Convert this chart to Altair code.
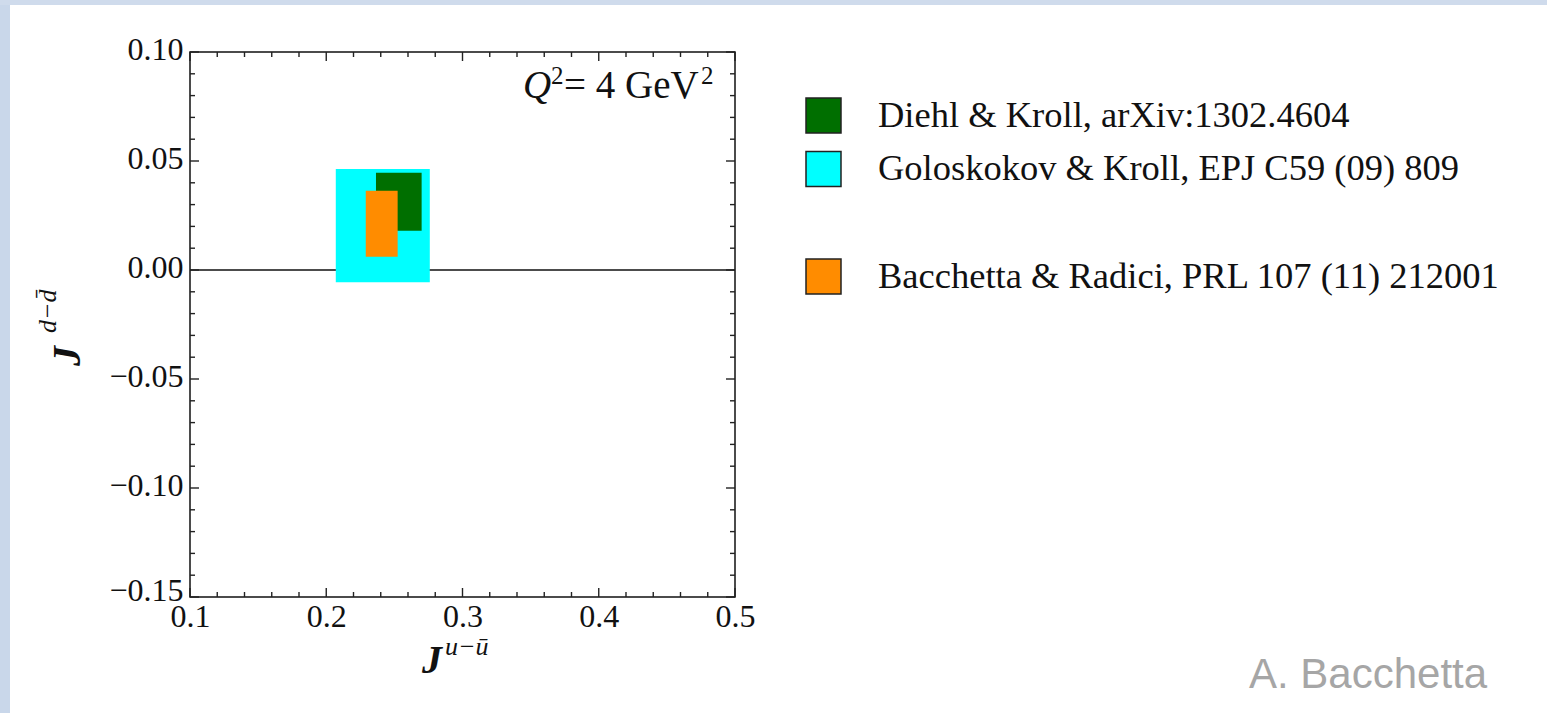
import altair as alt
import pandas as pd

# ---------------- data ----------------
gk_dk_models = ["Goloskokov & Kroll, EPJ C59 (09) 809", "Diehl & Kroll, arXiv:1302.4604"]
gk_dk_x_lo = [0.207, 0.2365]
gk_dk_x_hi = [0.276, 0.270]
gk_dk_y_lo = [-0.0056, 0.018]
gk_dk_y_hi = [0.0463, 0.0446]
gk_dk_colors = ["#00ffff", "#006f00"]

br_models = ["Bacchetta & Radici, PRL 107 (11) 212001"]
br_x_lo = [0.229]
br_x_hi = [0.2524]
br_y_lo = [0.0061]
br_y_hi = [0.0364]
br_colors = ["#ff8c00"]

legend_order = ["Diehl & Kroll, arXiv:1302.4604", "Goloskokov & Kroll, EPJ C59 (09) 809"]
legend_colors = ["#006f00", "#00ffff"]

x_major = [0.1, 0.2, 0.3, 0.4, 0.5]
y_major = [-0.15, -0.10, -0.05, 0.0, 0.05, 0.10]
x_minor = [0.12, 0.14, 0.16, 0.18, 0.22, 0.24, 0.26, 0.28, 0.32, 0.34, 0.36, 0.38,
           0.42, 0.44, 0.46, 0.48]
y_minor = [-0.14, -0.13, -0.12, -0.11, -0.09, -0.08, -0.07, -0.06, -0.04, -0.03, -0.02,
           -0.01, 0.01, 0.02, 0.03, 0.04, 0.06, 0.07, 0.08, 0.09]

# ---------------- layout ----------------
W, H = 545, 545
PAD_L, PAD_T = 190, 52
TOTAL_W, TOTAL_H = 1547, 713
FONT = "Liberation Serif"
TXT = "#111111"

xs = alt.Scale(domain=[0.1, 0.5], nice=False, zero=False)
ys = alt.Scale(domain=[-0.15, 0.10], nice=False, zero=False)

xaxis = alt.Axis(values=x_major, format=".1f", title=None, ticks=False, domain=False,
                 grid=False, labelFont=FONT, labelFontSize=32, labelColor=TXT,
                 labelPadding=4, labelFlush=False, labelOverlap=False)
yaxis = alt.Axis(values=y_major, format=".2f", title=None, ticks=False, domain=False,
                 grid=False, labelFont=FONT, labelFontSize=32, labelColor=TXT,
                 labelPadding=7, labelFlush=False, labelOverlap=False,
                 labelOffset=alt.condition("datum.value < -0.14", alt.value(-7), alt.value(-3)))

one = pd.DataFrame({"a": [0]})

# slide background strips (outside plot)
strip_left = alt.Chart(one).mark_rect(color="#c9d7ea").encode(
    x=alt.value(-PAD_L), x2=alt.value(-PAD_L + 10),
    y=alt.value(-PAD_T), y2=alt.value(TOTAL_H - PAD_T))
strip_top = alt.Chart(one).mark_rect(color="#cfdbec").encode(
    x=alt.value(-PAD_L), x2=alt.value(TOTAL_W - PAD_L),
    y=alt.value(-PAD_T), y2=alt.value(-PAD_T + 5))

df_a = pd.DataFrame({"model": gk_dk_models, "x0": gk_dk_x_lo, "x1": gk_dk_x_hi,
                     "y0": gk_dk_y_lo, "y1": gk_dk_y_hi})
df_b = pd.DataFrame({"model2": br_models, "x0": br_x_lo, "x1": br_x_hi,
                     "y0": br_y_lo, "y1": br_y_hi})

leg_common = dict(title=None, orient="none", symbolType="square", symbolSize=1225,
                  symbolStrokeColor="#222222", symbolStrokeWidth=1.5, labelFont=FONT,
                  labelFontSize=36.5, labelColor=TXT, labelOffset=36, labelLimit=900,
                  rowPadding=12.5, padding=0, symbolOpacity=1)

rects_a = alt.Chart(df_a).mark_rect().encode(
    x=alt.X("x0:Q", scale=xs, axis=xaxis), x2="x1:Q",
    y=alt.Y("y0:Q", scale=ys, axis=yaxis), y2="y1:Q",
    color=alt.Color("model:N", scale=alt.Scale(domain=legend_order, range=legend_colors),
                    legend=alt.Legend(legendX=615, legendY=45, **leg_common)))

rects_b = alt.Chart(df_b).mark_rect().encode(
    x=alt.X("x0:Q", scale=xs, axis=xaxis), x2="x1:Q",
    y=alt.Y("y0:Q", scale=ys, axis=yaxis), y2="y1:Q",
    fill=alt.Fill("model2:N", scale=alt.Scale(domain=br_models, range=br_colors),
                  legend=alt.Legend(legendX=615, legendY=206, **leg_common)))

zero_line = alt.Chart(pd.DataFrame({"y0": [0.0]})).mark_rule(
    color="#111111", strokeWidth=1.5).encode(y=alt.Y("y0:Q", scale=ys, axis=yaxis))

# inward ticks on all four sides
def xticks(vals, length, top):
    d = pd.DataFrame({"x0": vals})
    y0 = 0 if top else H
    y1 = length if top else H - length
    return alt.Chart(d).mark_rule(color="#222222", strokeWidth=1.4).encode(
        x=alt.X("x0:Q", scale=xs, axis=xaxis), y=alt.value(y0), y2=alt.value(y1))

def yticks(vals, length, right):
    d = pd.DataFrame({"y0": vals})
    x0 = W if right else 0
    x1 = W - length if right else length
    return alt.Chart(d).mark_rule(color="#222222", strokeWidth=1.4).encode(
        y=alt.Y("y0:Q", scale=ys, axis=yaxis), x=alt.value(x0), x2=alt.value(x1))

ticks = [xticks(x_major, 9, False), xticks(x_minor, 5, False),
         xticks(x_major, 9, True), xticks(x_minor, 5, True),
         yticks(y_major, 9, False), yticks(y_minor, 5, False),
         yticks(y_major, 9, True), yticks(y_minor, 5, True)]

def txt(s, x, y, size, style="normal", weight="normal", angle=0, color=TXT,
        font=FONT, align="left"):
    return alt.Chart(one).mark_text(font=font, fontSize=size, fontStyle=style,
                                    fontWeight=weight, angle=angle, color=color,
                                    align=align, baseline="alphabetic").encode(
        x=alt.value(x), y=alt.value(y), text=alt.value(s))

# Q^2 = 4 GeV^2 annotation
q_label = [
    txt("Q", 523 - PAD_L, 98 - PAD_T, 39, style="italic"),
    txt("2", 551 - PAD_L, 84 - PAD_T, 25),
    txt("= 4 GeV", 564 - PAD_L, 98 - PAD_T, 39),
    txt("2", 701 - PAD_L, 84 - PAD_T, 25),
]

# axis titles
x_title = [
    txt("J", 422 - PAD_L, 673 - PAD_T, 40, style="italic", weight="bold"),
    txt("u\u2212\u016b", 445 - PAD_L, 655 - PAD_T, 26, style="italic"),
]
y_title = [
    txt("J", 80 - PAD_L, 366 - PAD_T, 40, style="italic", weight="bold", angle=270),
    txt("d\u2212d\u0304", 56 - PAD_L, 333 - PAD_T, 26, style="italic", angle=270),
]

author = txt("A. Bacchetta", 1249 - PAD_L, 688 - PAD_T, 42, color="#a6a6a6",
             font="Liberation Sans")

chart = alt.layer(
    strip_left, strip_top, zero_line, rects_a, rects_b, *ticks,
    *q_label, *x_title, *y_title, author
).properties(
    width=W, height=H,
    autosize=alt.AutoSizeParams(type="none"),
    padding={"left": PAD_L, "top": PAD_T, "right": TOTAL_W - PAD_L - W,
             "bottom": TOTAL_H - PAD_T - H},
    background="white",
).configure_view(stroke="#111111", strokeWidth=1.5)

chart.save("out.html", embed_options={"renderer": "svg", "actions": False})
